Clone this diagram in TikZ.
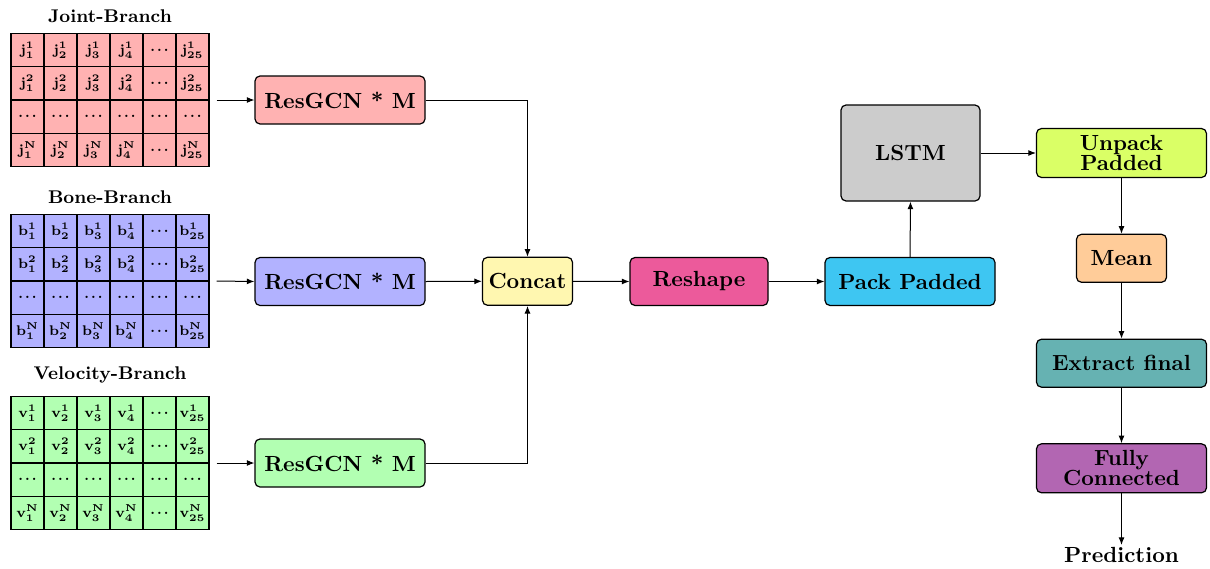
\documentclass[tikz,border=0pt]{standalone}
\usetikzlibrary{matrix,arrows.meta}

\definecolor{concatc}{HTML}{FFF7B0}
\definecolor{reshapec}{HTML}{EC5A9B}
\definecolor{packc}{HTML}{3EC6F2}
\definecolor{unpackc}{HTML}{DAFF66}

\tikzset{
  block/.style={draw, line width=0.6pt, rounded corners=2.5pt, inner sep=0pt,
    minimum height=24pt, align=center,
    font=\fontsize{10.95}{10}\selectfont\bfseries},
  grid/.style={matrix of math nodes, ampersand replacement=\&,
    column sep=-0.6pt, row sep=-0.6pt,
    nodes={draw, line width=0.6pt, minimum width=16.5pt, minimum height=16.7pt,
      inner sep=0pt, anchor=center, font=\fontsize{7.4}{9}\selectfont\boldmath}},
  gtitle/.style={font=\fontsize{9.2}{11}\selectfont\bfseries},
  flow/.style={-{Latex[length=3.8pt,width=3pt]}, line width=0.5pt},
}
\newcommand{\Nn}{\mathbf{N}}
\newcommand{\dd}{{.}\mkern1.5mu{.}\mkern1.5mu{.}}

\begin{document}
\begin{tikzpicture}[x=0.5pt, y=-0.5pt]
\useasboundingbox (0,0) rectangle (1210,568);

% input branches
\node[gtitle] (tj) at (110,16) {Joint-Branch};
\matrix[grid, nodes={fill=red!30}] (joint) at (110,100) {
  \mathbf{j}_1^1 \& \mathbf{j}_2^1 \& \mathbf{j}_3^1 \& \mathbf{j}_4^1 \& \dd \& \mathbf{j}_{25}^1 \\
  \mathbf{j}_1^2 \& \mathbf{j}_2^2 \& \mathbf{j}_3^2 \& \mathbf{j}_4^2 \& \dd \& \mathbf{j}_{25}^2 \\
  \dd \& \dd \& \dd \& \dd \& \dd \& \dd \\
  \mathbf{j}_1^\Nn \& \mathbf{j}_2^\Nn \& \mathbf{j}_3^\Nn \& \mathbf{j}_4^\Nn \& \dd \& \mathbf{j}_{25}^\Nn \\
};

\node[gtitle] (tb) at (110,197) {Bone-Branch};
\matrix[grid, nodes={fill=blue!30}] (bone) at (110,281) {
  \mathbf{b}_1^1 \& \mathbf{b}_2^1 \& \mathbf{b}_3^1 \& \mathbf{b}_4^1 \& \dd \& \mathbf{b}_{25}^1 \\
  \mathbf{b}_1^2 \& \mathbf{b}_2^2 \& \mathbf{b}_3^2 \& \mathbf{b}_4^2 \& \dd \& \mathbf{b}_{25}^2 \\
  \dd \& \dd \& \dd \& \dd \& \dd \& \dd \\
  \mathbf{b}_1^\Nn \& \mathbf{b}_2^\Nn \& \mathbf{b}_3^\Nn \& \mathbf{b}_4^\Nn \& \dd \& \mathbf{b}_{25}^\Nn \\
};

\node[gtitle] (tv) at (110,375) {Velocity-Branch};
\matrix[grid, nodes={fill=green!30}] (velo) at (110,463) {
  \mathbf{v}_1^1 \& \mathbf{v}_2^1 \& \mathbf{v}_3^1 \& \mathbf{v}_4^1 \& \dd \& \mathbf{v}_{25}^1 \\
  \mathbf{v}_1^2 \& \mathbf{v}_2^2 \& \mathbf{v}_3^2 \& \mathbf{v}_4^2 \& \dd \& \mathbf{v}_{25}^2 \\
  \dd \& \dd \& \dd \& \dd \& \dd \& \dd \\
  \mathbf{v}_1^\Nn \& \mathbf{v}_2^\Nn \& \mathbf{v}_3^\Nn \& \mathbf{v}_4^\Nn \& \dd \& \mathbf{v}_{25}^\Nn \\
};

% processing blocks
\node[block, fill=red!30,   minimum width=85pt] (resj) at (340,100) {ResGCN * M};
\node[block, fill=blue!30,  minimum width=85pt] (resb) at (340,281.5) {ResGCN * M};
\node[block, fill=green!30, minimum width=85pt] (resv) at (340,463) {ResGCN * M};

\node[block, fill=concatc,  minimum width=45pt] (concat)  at (527.5,281.3) {Concat};
\node[block, fill=reshapec, minimum width=69pt] (reshape) at (699,281.5) {Reshape};
\node[block, fill=packc,    minimum width=85pt] (pack)    at (910,281.5) {Pack Padded};
\node[block, fill=gray!40,  minimum width=69.5pt, minimum height=48pt] (lstm) at (910.5,153) {LSTM};

\node[block, fill=unpackc,   minimum width=85pt, minimum height=24.5pt] (unpack) at (1121.5,153) {Unpack\\Padded};
\node[block, fill=orange!40, minimum width=45pt] (mean)    at (1121.5,258.3) {Mean};
\node[block, fill=teal!60,   minimum width=85pt] (extract) at (1121.5,363.2) {Extract final};
\node[block, fill=violet!60, minimum width=85pt, minimum height=24.5pt] (fc) at (1121.5,468.3) {Fully\\Connected};
\node[font=\fontsize{10.95}{12}\selectfont\bfseries, inner sep=1pt] (pred) at (1121.5,555) {Prediction};

% connectors
\draw[flow] (joint.east) -- (resj.west);
\draw[flow] (bone.east)  -- (resb.west);
\draw[flow] (velo.east)  -- (resv.west);
\draw[flow] (resj.east) -| (concat.north);
\draw[flow] (resb.east) -- (concat.west);
\draw[flow] (resv.east) -| (concat.south);
\draw[flow] (concat.east) -- (reshape.west);
\draw[flow] (reshape.east) -- (pack.west);
\draw[flow] (pack.north) -- (lstm.south);
\draw[flow] (lstm.east) -- (unpack.west);
\draw[flow] (unpack.south) -- (mean.north);
\draw[flow] (mean.south) -- (extract.north);
\draw[flow] (extract.south) -- (fc.north);
\draw[flow] (fc.south) -- (pred.north);
\end{tikzpicture}
\end{document}
